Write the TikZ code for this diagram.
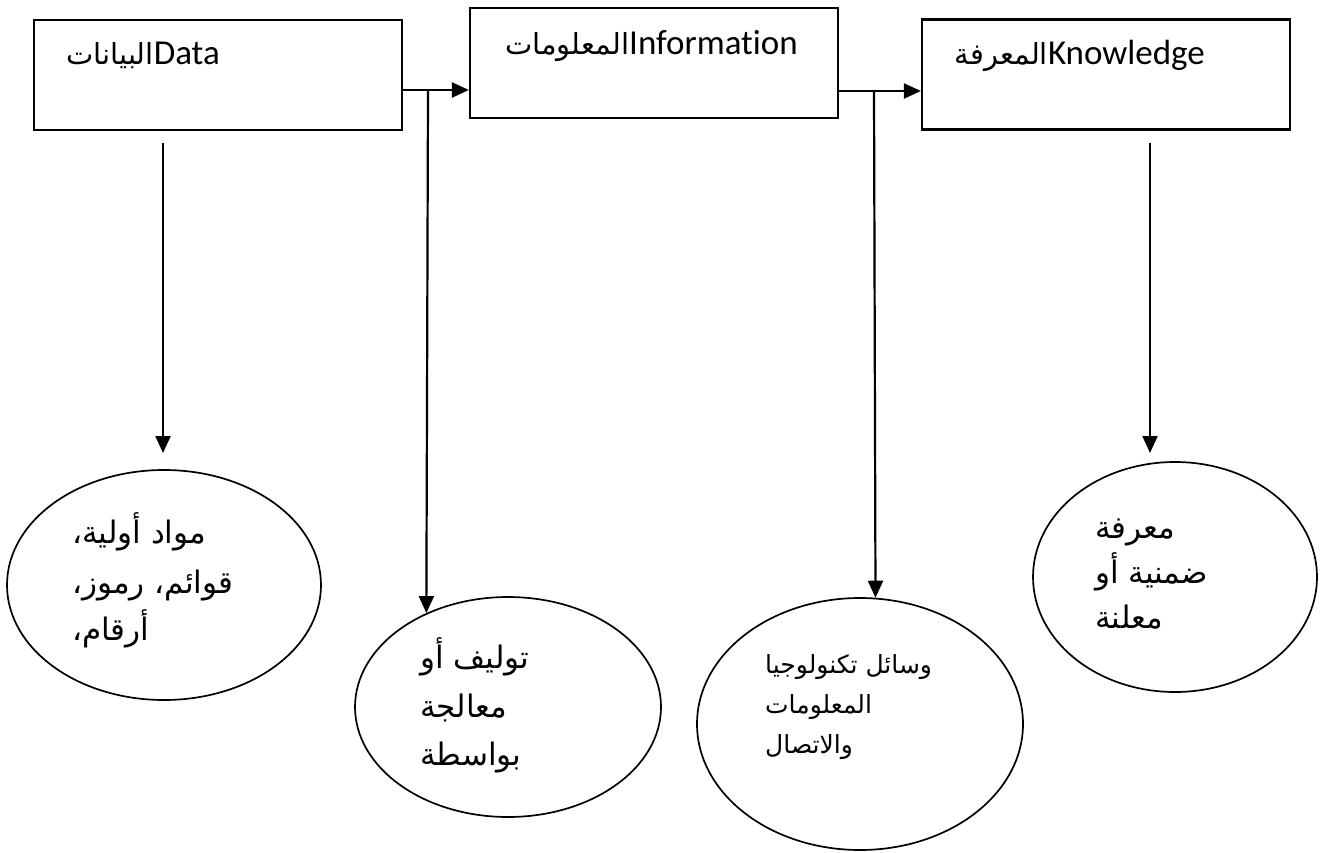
\documentclass[tikz,border=0pt]{standalone}
\usepackage{fontspec}
\setmainfont{Carlito}[Ligatures={NoCommon,NoRequired,NoContextual}]
\newfontfamily\arabicfont[Script=Arabic]{DejaVu Sans}
\TeXXeTstate=1
\usetikzlibrary{arrows.meta,shapes.geometric}
\tikzset{
  boxnode/.style={draw, rectangle, line width=2.2pt, inner sep=0pt, minimum width=368pt, minimum height=110pt},
  ovalnode/.style={draw, ellipse, line width=1.7pt, inner sep=0pt},
  conn/.style={line width=2.2pt, -{Triangle[length=17pt,width=15pt]}},
  boxtext/.style={anchor=base east, inner sep=0pt, font=\fontsize{35}{40}\selectfont},
  artext/.style={anchor=base west, inner sep=0pt, font=\arabicfont\fontsize{31}{34}\selectfont},
  smalltext/.style={anchor=base west, inner sep=0pt, font=\arabicfont\fontsize{25}{28}\selectfont}
}
\newcommand{\boxar}[1]{{\arabicfont\fontsize{29}{32}\selectfont\beginR #1\endR}}
\begin{document}
\begin{tikzpicture}[x=1pt,y=-1pt]
\fill[white] (0,0) rectangle (1321,853);
\useasboundingbox (0,0) rectangle (1321,853);
% boxes
\node[boxnode] (d) at (218,75) {};
\node[boxnode] (i) at (654,63) {};
\node[boxnode] (k) at (1106,74.5) {};
\node[boxtext] (dt) at (220,65) {\boxar{البيانات}Data};
\node[boxtext] (it) at (798,55) {\boxar{المعلومات}Information};
\node[boxtext] (kt) at (1205,65) {\boxar{المعرفة}Knowledge};
% ellipses
\node[ovalnode, minimum width=314pt, minimum height=230pt] (e1) at (164,585) {};
\node[ovalnode, minimum width=306pt, minimum height=220pt] (e2) at (508,707) {};
\node[ovalnode, minimum width=326pt, minimum height=252pt] (e3) at (860,724) {};
\node[ovalnode, minimum width=284pt, minimum height=230pt] (e4) at (1175,577) {};
% ellipse texts
\node[artext] (e1a) at (72,543) {\beginR مواد أولية،\endR};
\node[artext] (e1b) at (72,593) {\beginR قوائم، رموز،\endR};
\node[artext] (e1c) at (72,640) {\beginR أرقام،\endR};
\node[artext] (e2a) at (420,668) {\beginR توليف أو\endR};
\node[artext] (e2b) at (420,717) {\beginR معالجة\endR};
\node[artext] (e2c) at (420,765) {\beginR بواسطة\endR};
\node[smalltext] (e3a) at (765,673) {\beginR وسائل تكنولوجيا\endR};
\node[smalltext] (e3b) at (765,713) {\beginR المعلومات\endR};
\node[smalltext] (e3c) at (765,753) {\beginR والاتصال\endR};
\node[artext] (e4a) at (1095,538) {\beginR معرفة\endR};
\node[artext] (e4b) at (1095,583) {\beginR ضمنية أو\endR};
\node[artext] (e4c) at (1095,628) {\beginR معلنة\endR};
% connectors
\draw[conn] ([yshift=-15pt]d.east) -- ([yshift=-27pt]i.west);
\draw[conn] ([yshift=-28pt]i.east) -- ([yshift=-16.5pt]k.west);
\coordinate (j1) at (428,90);
\coordinate (j2) at (874,91);
\draw[conn] (j1) -- (e2.131);
\draw[conn] (j2) -- (e3.83);
\coordinate (s1) at (163,143);
\coordinate (q1) at (163,453);
\coordinate (s4) at (1150,143);
\coordinate (q4) at (1150,453);
\draw[conn] (s1) -- (q1);
\draw[conn] (s4) -- (q4);
\end{tikzpicture}
\end{document}
